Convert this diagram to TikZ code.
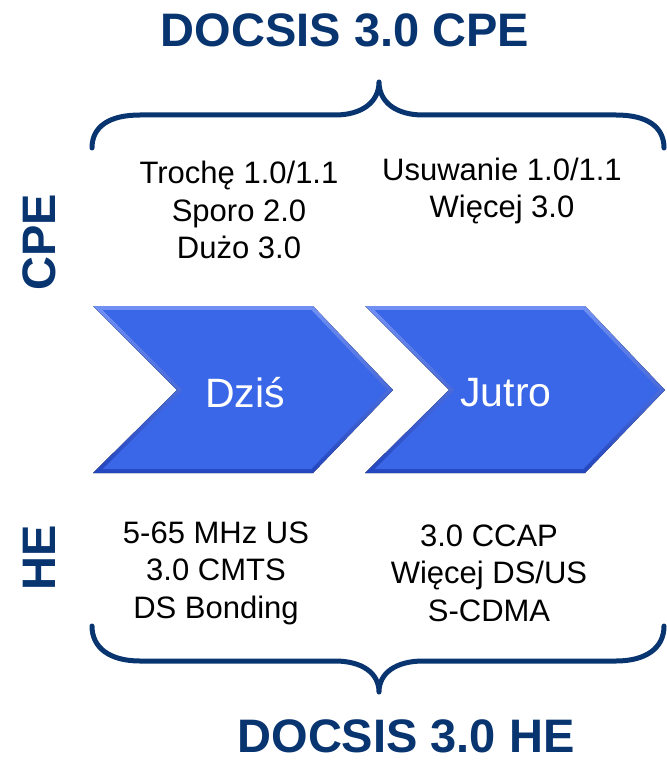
\documentclass[tikz,border=0pt]{standalone}
\usepackage{fontspec}
\setmainfont{Liberation Sans}
\definecolor{navy}{RGB}{8,52,112}
\definecolor{chevmain}{RGB}{58,102,232}
\definecolor{chevlight}{RGB}{112,144,244}
\definecolor{chevdark}{RGB}{36,70,190}
\tikzset{
  title/.style={text=navy, font=\fontsize{47}{47}\selectfont\bfseries, inner sep=0pt},
  side/.style={title, rotate=90},
  body/.style={text=black, font=\fontsize{31}{37.5}\selectfont, align=center, inner sep=0pt},
  stage/.style={text=white, font=\fontsize{41}{41}\selectfont, inner sep=0pt},
  bracket/.style={draw=navy, line width=5pt, line cap=round, line join=round},
}
% chevron with a bevelled edge; #1 = horizontal offset
\newcommand{\chevronat}[1]{%
  \begin{scope}[xshift=#1]
    \fill[top color=chevlight, bottom color=chevdark]
      (93,306) -- (313,306) -- (393,390) -- (313,473) -- (93,473) -- (177,390) -- cycle;
    \fill[chevmain]
      (102.7,310) -- (311.3,310) -- (387.3,390) -- (311.3,469) -- (102.7,469) -- (182.7,390) -- cycle;
  \end{scope}}
\begin{document}
\begin{tikzpicture}[x=1pt,y=-1pt]
\useasboundingbox (0,0) rectangle (666,762);

% titles
\node[title] (toptitle) at (345,30) {DOCSIS 3.0 CPE};
\node[title] (bottitle) at (406,736) {DOCSIS 3.0 HE};
\node[side] (cpe) at (39,242) {CPE};
\node[side] (he) at (39,558) {HE};

% braces
\draw[bracket] (92,148) .. controls (92,126) and (110,115) .. (140,115) -- (335,115)
  .. controls (362,115) and (379,102) .. (379,82)
  .. controls (379,102) and (396,115) .. (423,115) -- (616,115)
  .. controls (646,115) and (664,126) .. (664,148);
\draw[bracket] (92,626) .. controls (92,648) and (110,661) .. (140,661) -- (335,661)
  .. controls (362,661) and (379,673) .. (379,692)
  .. controls (379,673) and (396,661) .. (423,661) -- (616,661)
  .. controls (646,661) and (664,648) .. (664,626);

% chevrons
\chevronat{0pt}
\chevronat{272pt}
\node[stage] (today) at (245,393) {Dziś};
\node[stage] (tomorrow) at (506,393) {Jutro};

% CPE texts
\node[body] (cpeleft) at (239,210) {Trochę 1.0/1.1\\Sporo 2.0\\Dużo 3.0};
\node[body] (cperight) at (502,191) {Usuwanie 1.0/1.1\\Więcej 3.0};

% HE texts
\node[body] (heleft) at (216,573) {5-65 MHz US\\3.0 CMTS\\DS Bonding};
\node[body] (heright) at (489,573) {3.0 CCAP\\Więcej DS/US\\S-CDMA};
\end{tikzpicture}
\end{document}
